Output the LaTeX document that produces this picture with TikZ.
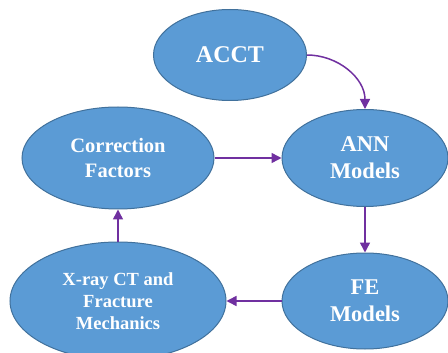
\documentclass[tikz,border=0pt]{standalone}
\usepackage{fontspec}
\setmainfont{Liberation Serif}
\usetikzlibrary{shapes.geometric, arrows.meta}

\definecolor{stepfill}{HTML}{5B9BD5}
\definecolor{stepline}{HTML}{41719C}
\definecolor{flowline}{HTML}{7030A0}

\tikzset{
    stagebox/.style={ellipse, draw=stepline, line width=1pt, fill=stepfill, text=white,
        font=\bfseries, align=center, inner sep=0pt},
    flow/.style={draw=flowline, line width=1.5pt, -{Triangle[length=10pt, width=10pt]}}
}

\begin{document}
\begin{tikzpicture}[x=1pt, y=-1pt]
    \useasboundingbox (0,0) rectangle (448,353);

    % Stages
    \node[stagebox, minimum width=153pt, minimum height=91pt, font=\fontsize{24}{27}\selectfont\bfseries] (ACCT) at (230,55) {ACCT};
    \node[stagebox, minimum width=166pt, minimum height=97pt, font=\fontsize{22.5}{27}\selectfont\bfseries] (ANN) at (365,158) {ANN\\Models};
    \node[stagebox, minimum width=192pt, minimum height=102pt, font=\fontsize{20.5}{25}\selectfont\bfseries] (CF) at (118,158) {Correction\\Factors};
    \node[stagebox, minimum width=166pt, minimum height=96pt, font=\fontsize{22.5}{27}\selectfont\bfseries] (FE) at (365,301) {FE\\Models};
    \node[stagebox, minimum width=216pt, minimum height=118pt, font=\fontsize{18.5}{22}\selectfont\bfseries] (XCT) at (118,301) {X-ray CT and\\Fracture\\Mechanics};

    % Flow between stages
    \draw[flow] (ACCT.east) to[out=0, in=90] (ANN.north);
    \draw[flow] (CF.east) -- (ANN.west);
    \draw[flow] (ANN.south) -- (FE.north);
    \draw[flow] (FE.west) -- (XCT.east);
    \draw[flow] (XCT.north) -- (CF.south);
\end{tikzpicture}
\end{document}
